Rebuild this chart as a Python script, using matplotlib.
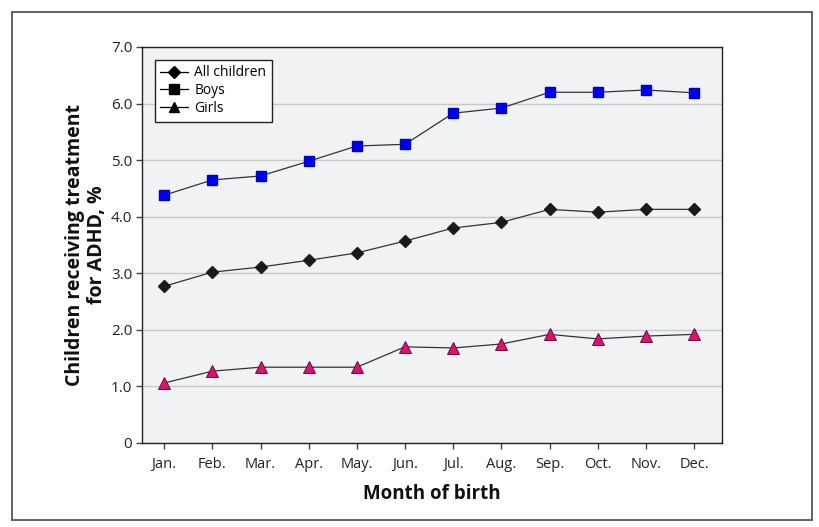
import matplotlib
matplotlib.use("Agg")
import matplotlib.pyplot as plt
from matplotlib.patches import Rectangle

# data
months = ["Jan.", "Feb.", "Mar.", "Apr.", "May.", "Jun.",
          "Jul.", "Aug.", "Sep.", "Oct.", "Nov.", "Dec."]
all_children = [2.77, 3.02, 3.11, 3.23, 3.36, 3.57, 3.80, 3.90, 4.13, 4.08, 4.13, 4.13]
boys = [4.38, 4.65, 4.72, 4.98, 5.25, 5.28, 5.83, 5.92, 6.20, 6.20, 6.24, 6.19]
girls = [1.06, 1.27, 1.34, 1.34, 1.34, 1.70, 1.68, 1.75, 1.92, 1.84, 1.89, 1.92]
yticks = [0, 1, 2, 3, 4, 5, 6, 7]
ytick_labels = ["0", "1.0", "2.0", "3.0", "4.0", "5.0", "6.0", "7.0"]

plt.rcParams['font.family'] = ['Open Sans', 'DejaVu Sans']

fig = plt.figure(figsize=(8.2, 5.27), dpi=100)
ax = fig.add_axes([142/820, 84/527, 580/820, 396/527])
ax.set_facecolor("#f1f2f4")

# outer frame
fig.patches.append(Rectangle((12/820, 7/527), 800/820, 508/527, transform=fig.transFigure,
                             fill=False, edgecolor="#555555", linewidth=1.3))

x = list(range(len(months)))
ax.plot(x, boys, color="#333333", lw=0.9, marker="s", ms=7.5,
        mfc="#0000ee", mec="#0000cc", zorder=3)
ax.plot(x, all_children, color="#333333", lw=0.9, marker="D", ms=6,
        mfc="#1a1a1a", mec="#1a1a1a", zorder=3)
ax.plot(x, girls, color="#333333", lw=0.9, marker="^", ms=9,
        mfc="#e0106e", mec="#6a0a3a", mew=0.7, zorder=3)

# legend with black markers
h1, = ax.plot([], [], color="black", lw=0.9, marker="D", ms=6, mfc="black", mec="black")
h2, = ax.plot([], [], color="black", lw=0.9, marker="s", ms=7, mfc="black", mec="black")
h3, = ax.plot([], [], color="black", lw=0.9, marker="^", ms=7, mfc="black", mec="black")
leg = ax.legend([h1, h2, h3], ["All children", "Boys", "Girls"], loc="upper left",
                bbox_to_anchor=(0.01, 0.985), fontsize=10, handlelength=2.0,
                handletextpad=0.45, labelspacing=0.2, borderpad=0.4,
                fancybox=False, framealpha=1, edgecolor="#222222")
leg.get_frame().set_linewidth(1.0)
leg.get_frame().set_facecolor("white")

ax.set_xlim(-0.46, 11.58)
ax.set_ylim(0, 7)
ax.set_xticks(x)
ax.set_xticklabels(months, fontsize=10.5, color="#222222")
ax.set_yticks(yticks)
ax.set_yticklabels(ytick_labels, fontsize=11, color="#222222")
ax.yaxis.grid(True, color="#c8c8c8", lw=1.0)
ax.set_axisbelow(True)
ax.tick_params(direction="out", length=4, width=1, color="#444444", pad=6)
ax.tick_params(axis="y", pad=3)

for s in ax.spines.values():
    s.set_color("#222222")
    s.set_linewidth(1.0)

ax.set_xlabel("Month of birth", fontsize=13.5, fontweight="bold", labelpad=9, color="#111111")
ax.set_ylabel("Children receiving treatment\nfor ADHD, %", fontsize=14, fontweight="bold",
              color="#111111", linespacing=1.15)
ax.yaxis.set_label_coords(-0.06, 0.5)

fig.savefig("out.png", dpi=100)
